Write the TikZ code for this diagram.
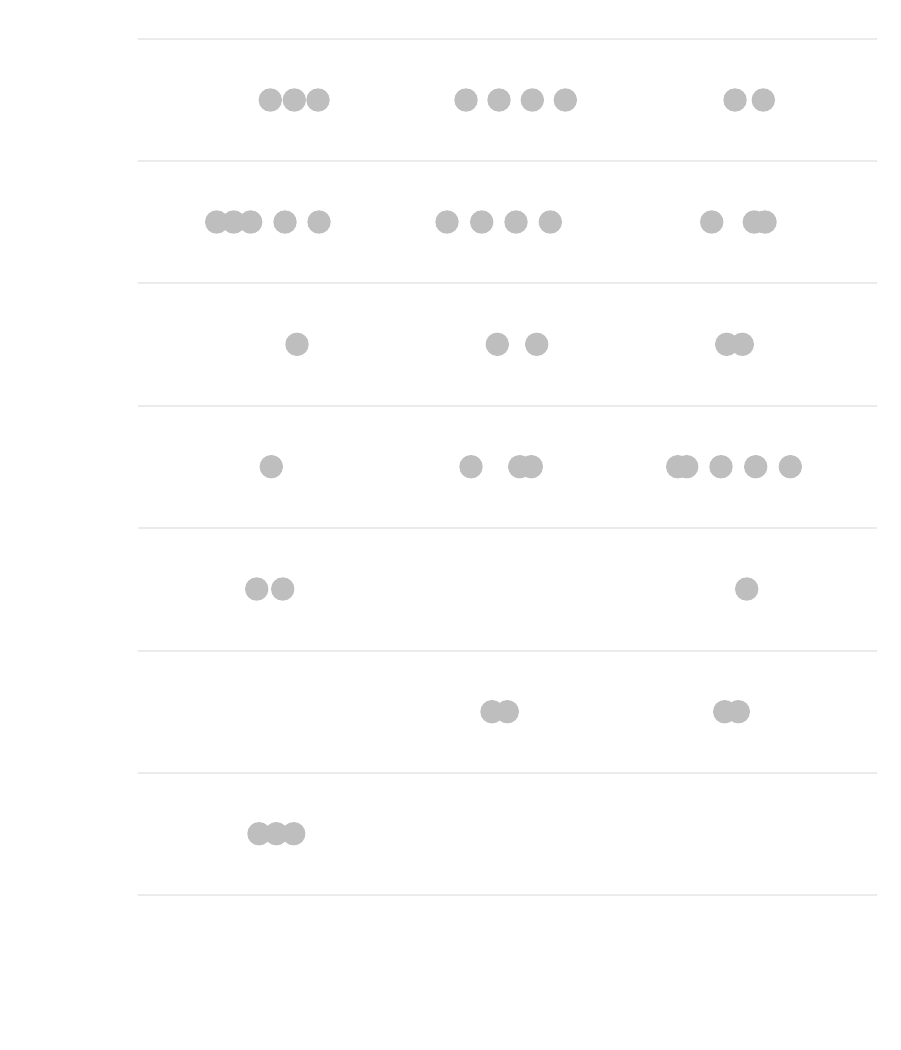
\documentclass[tikz,border=0pt]{standalone}
\definecolor{dotgray}{RGB}{190,190,190}
\definecolor{rulegray}{RGB}{235,235,235}
\begin{document}
\begin{tikzpicture}[x=1pt,y=-1pt]
\tikzset{ dot/.style={fill=dotgray},
          rule/.style={draw=rulegray, line width=2pt} }
\useasboundingbox (0,0) rectangle (900,1050);

% row separators
\foreach \y in {38.7,161,283.3,406,528.3,650.6,772.7,895}
  \draw [rule] (138,\y) -- (877,\y);

% dots, one row at a time
\foreach \y/\xs in {
  100/{270.3,294.3,318,466,499,532.3,565.3,735,763.3},
  222/{216.7,233.7,250.7,285,319,447,481.7,516,550.3,711.7,754.3,765},
  344.3/{297,497.3,536.7,726.7,742.3},
  466.7/{271.3,471,519.7,531.3,677.7,686.7,721,755.7,790.3},
  589/{256.7,282.7,746.7},
  711.7/{492,507.3,724.7,738.3},
  833.7/{259,276.3,293.7}}
  \foreach \x in \xs
    \fill [dot] (\x,\y) circle (11.7);
\end{tikzpicture}
\end{document}
